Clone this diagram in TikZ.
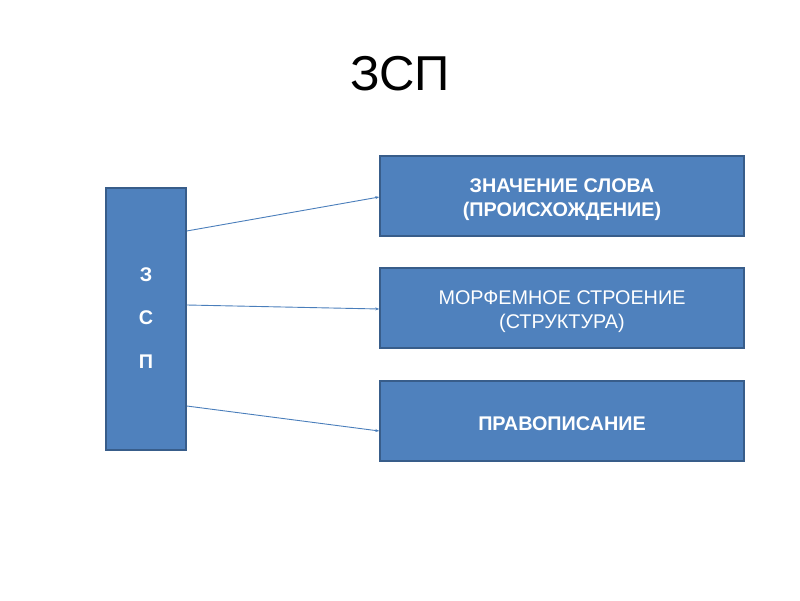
\documentclass[tikz,border=0pt]{standalone}
\usepackage{fontspec}
\setmainfont{Liberation Sans}
\usetikzlibrary{arrows.meta}
\definecolor{boxfill}{HTML}{4F81BD}
\definecolor{boxline}{HTML}{385D8A}
\definecolor{arrowcol}{HTML}{4A7EBB}
\tikzset{
  bluebox/.style={draw=boxline, line width=1.5pt, fill=boxfill, inner sep=0pt},
  boxtext/.style={text=white, align=center, inner sep=0pt, font=\fontsize{19.8}{24}\selectfont},
  letter/.style={text=white, font=\bfseries\fontsize{19.8}{24}\selectfont},
  conn/.style={draw=arrowcol, line width=0.9pt, -{Stealth[length=4pt,width=3pt]}}
}
\begin{document}
\begin{tikzpicture}[x=1pt,y=1pt]
\useasboundingbox (0,0) rectangle (800,600);
\node (title) at (400,526) {\fontsize{49}{54}\selectfont ЗСП};
\node[bluebox, minimum width=80pt, minimum height=262pt] (L) at (146,281) {};
\node[letter] (l1) at (146,325) {З};
\node[letter] (l2) at (146,282) {С};
\node[letter] (l3) at (146,238) {П};
\node[bluebox, minimum width=364pt, minimum height=80pt] (B1) at (562,404) {};
\node[bluebox, minimum width=364pt, minimum height=80pt] (B2) at (562,292) {};
\node[bluebox, minimum width=364pt, minimum height=80pt] (B3) at (562,179) {};
\node[boxtext] (t1) at ([yshift=-3.5pt]B1.center) {\bfseries ЗНАЧЕНИЕ СЛОВА\\\bfseries(ПРОИСХОЖДЕНИЕ)};
\node[boxtext] (t2) at ([yshift=-3.5pt]B2.center) {МОРФЕМНОЕ СТРОЕНИЕ\\(СТРУКТУРА)};
\node[boxtext] (t3) at ([yshift=-3pt]B3.center) {\bfseries ПРАВОПИСАНИЕ};
\draw[conn] ([yshift=88pt]L.east) -- ([yshift=-1pt]B1.west);
\draw[conn] ([yshift=14pt]L.east) -- ([yshift=-1pt]B2.west);
\draw[conn] ([yshift=-87pt]L.east) -- ([yshift=-10pt]B3.west);
\end{tikzpicture}
\end{document}
